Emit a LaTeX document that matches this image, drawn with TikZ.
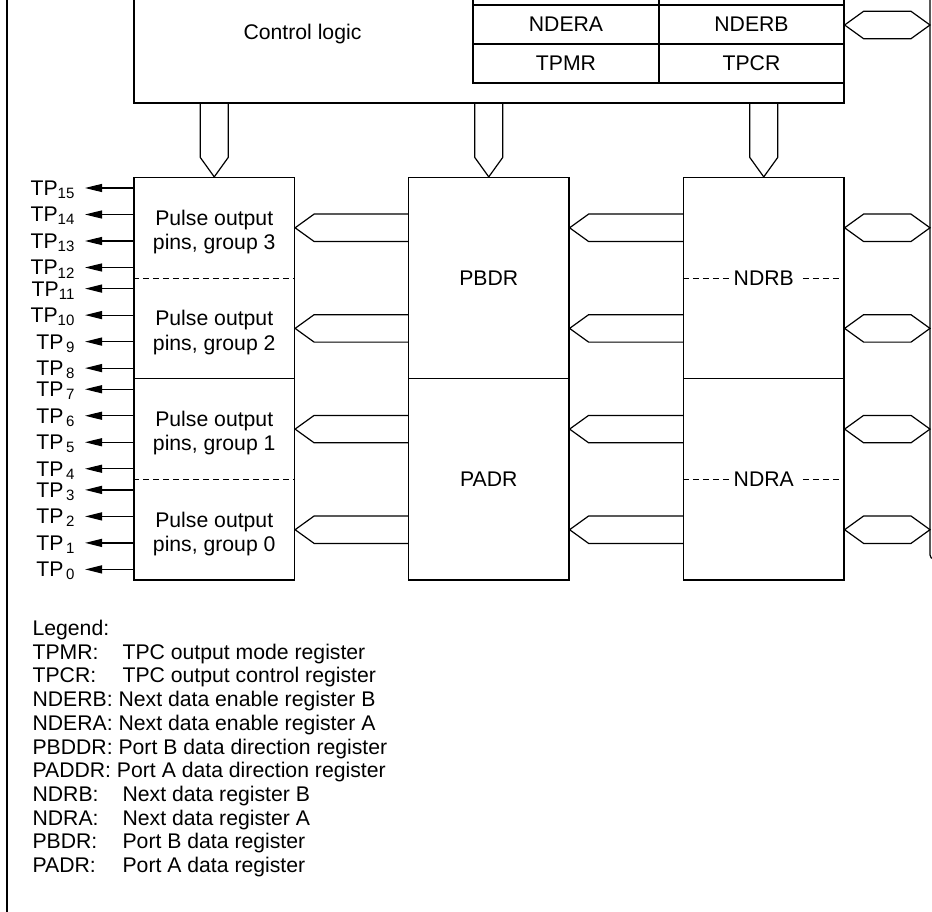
\documentclass[tikz,border=0pt]{standalone}
\usepackage{fontspec}
\setmainfont{Liberation Sans}
\usetikzlibrary{arrows.meta,calc}

% pin labels: two-digit and single-digit subscripts
\newcommand{\tpn}[1]{TP\raisebox{-3pt}{\fontsize{15}{15}\selectfont #1}}
\newcommand{\tpd}[1]{TP\kern2.5pt\raisebox{-3pt}{\fontsize{15}{15}\selectfont #1}}

\begin{document}
\begin{tikzpicture}[x=1pt,y=-1pt,line width=1.2pt,
  txt/.style={font=\fontsize{21.2}{24.3}\selectfont, inner sep=0pt},
  block/.style={draw, rectangle, minimum width=160.5pt, minimum height=201.25pt, inner sep=0pt},
  cell/.style={draw, rectangle, minimum height=39pt, inner sep=0pt, font=\fontsize{21.2}{24.3}\selectfont},
  divider/.style={line width=1pt, dash pattern=on 6pt off 4pt},
  pinarrow/.style={-{Triangle[length=17pt,width=8pt]}, line width=1.2pt},
  bus/.style={line width=1.2pt, line join=miter},
]
\useasboundingbox (0,0) rectangle (932,912);
\clip (0,0) rectangle (932,912);

% frame edge on the left and the internal bus on the right
\draw[line width=2.2pt] (7,-5) -- (7,920);
\coordinate (busTop) at (930,-5);
\coordinate (busBend) at (930,559);
\coordinate (busOut) at (945,559);
\draw[rounded corners=4pt] (busTop) -- (busBend) -- (busOut);

% control logic with its register table
\node[draw, rectangle, minimum width=710pt, minimum height=163pt, inner sep=0pt] (ctrl) at (489,21.5) {};
\node[txt, anchor=base] (ctrlname) at (302.5,39.3) {Control logic};
\node[cell, minimum width=186pt] (rowL) at (566,-14.5) {};
\node[cell, minimum width=185pt] (rowR) at (751.5,-14.5) {};
\node[cell, minimum width=186pt] (ndera) at (566,24.5) {NDERA};
\node[cell, minimum width=185pt] (nderb) at (751.5,24.5) {NDERB};
\node[cell, minimum width=186pt] (tpmr) at (566,63.5) {TPMR};
\node[cell, minimum width=185pt] (tpcr) at (751.5,63.5) {TPCR};

% pulse output pin groups
\node[block] (pulseB) at (214.25,278.125) {};
\node[block] (pulseA) at (214.25,479.375) {};
\draw[divider] (pulseB.west) -- (pulseB.east);
\draw[divider] (pulseA.west) -- (pulseA.east);
\node[txt, align=center] (grp3) at (214.25,231.8) {Pulse output\\pins, group 3};
\node[txt, align=center] (grp2) at (214.25,332.4) {Pulse output\\pins, group 2};
\node[txt, align=center] (grp1) at (214.25,433.1) {Pulse output\\pins, group 1};
\node[txt, align=center] (grp0) at (214.25,533.7) {Pulse output\\pins, group 0};

% port data registers
\node[block, txt] (pbdr) at (488.75,278.125) {PBDR};
\node[block, txt] (padr) at (488.75,479.375) {PADR};

% next data registers
\node[block] (ndrb) at (763.75,278.125) {};
\node[block] (ndra) at (763.75,479.375) {};
\draw[divider] (ndrb.west) -- (ndrb.east);
\draw[divider] (ndra.west) -- (ndra.east);
\node[txt, fill=white, inner xsep=5pt] (ndrbname) at (ndrb.center) {NDRB};
\node[txt, fill=white, inner xsep=5pt] (ndraname) at (ndra.center) {NDRA};

% group centre lines
\coordinate (g3) at (0,227.8);
\coordinate (g2) at (0,328.4);
\coordinate (g1) at (0,429.1);
\coordinate (g0) at (0,529.7);
\coordinate (gt) at (0,25);

% buses from the control logic down to the blocks
\foreach \b in {pulseB,pbdr,ndrb} {
  \draw[bus] ($(ctrl.south -| \b.north)+(-14,0)$) -- ($(\b.north)+(-14,-19.5)$)
    -- (\b.north) -- ($(\b.north)+(14,-19.5)$) -- ($(ctrl.south -| \b.north)+(14,0)$);
}

% buses between the blocks, pointing left
\foreach \g in {g3,g2,g1,g0} {
  \draw[bus] ($(pbdr.west |- \g)+(0,-13.7)$) -- ($(pulseB.east |- \g)+(19,-13.7)$)
    -- (pulseB.east |- \g) -- ($(pulseB.east |- \g)+(19,13.7)$) -- ($(pbdr.west |- \g)+(0,13.7)$);
  \draw[bus] ($(ndrb.west |- \g)+(0,-13.7)$) -- ($(pbdr.east |- \g)+(19,-13.7)$)
    -- (pbdr.east |- \g) -- ($(pbdr.east |- \g)+(19,13.7)$) -- ($(ndrb.west |- \g)+(0,13.7)$);
  % two-way buses to the internal bus
  \draw[bus] (ndrb.east |- \g) -- ++(19,-13.7) -- ($(busTop |- \g)+(-19,-13.7)$)
    -- (busTop |- \g) -- ($(busTop |- \g)+(-19,13.7)$) -- ($(ndrb.east |- \g)+(19,13.7)$) -- cycle;
}
\draw[bus] (ctrl.east |- gt) -- ++(19,-13.7) -- ($(busTop |- gt)+(-19,-13.7)$)
  -- (busTop |- gt) -- ($(busTop |- gt)+(-19,13.7)$) -- ($(ctrl.east |- gt)+(19,13.7)$) -- cycle;

% output pins
\foreach \n/\y/\lab in {15/188/\tpn{15}, 14/214.5/\tpn{14}, 13/241/\tpn{13}, 12/267.5/\tpn{12},
    11/288.6/\tpn{11}, 10/315.1/\tpn{10}, 9/341.6/\tpd{9}, 8/368.1/\tpd{8},
    7/389.25/\tpd{7}, 6/415.75/\tpd{6}, 5/442.25/\tpd{5}, 4/468.75/\tpd{4},
    3/489.9/\tpd{3}, 2/516.4/\tpd{2}, 1/542.9/\tpd{1}, 0/569.4/\tpd{0}} {
  \node[txt, anchor=base east] (tp\n) at (75,\y+7.5) {\lab};
  \coordinate (tip\n) at (85,\y);
  \draw[pinarrow] (pulseB.west |- tip\n) -- (tip\n);
}

% legend
\node[txt, anchor=base west] (legend) at (32,635.5) {Legend:};
\node[txt, anchor=base west] (lk1) at (32,659.2) {TPMR:};
\node[txt, anchor=base west] (ld1) at (122,659.2) {TPC output mode register};
\node[txt, anchor=base west] (lk2) at (32,682.9) {TPCR:};
\node[txt, anchor=base west] (ld2) at (122,682.9) {TPC output control register};
\node[txt, anchor=base west] (lk3) at (32,706.6) {NDERB: Next data enable register B};
\node[txt, anchor=base west] (lk4) at (32,730.3) {NDERA: Next data enable register A};
\node[txt, anchor=base west] (lk5) at (32,754.0) {PBDDR: Port B data direction register};
\node[txt, anchor=base west] (lk6) at (32,777.7) {PADDR: Port A data direction register};
\node[txt, anchor=base west] (lk7) at (32,801.4) {NDRB:};
\node[txt, anchor=base west] (ld7) at (122,801.4) {Next data register B};
\node[txt, anchor=base west] (lk8) at (32,825.1) {NDRA:};
\node[txt, anchor=base west] (ld8) at (122,825.1) {Next data register A};
\node[txt, anchor=base west] (lk9) at (32,848.8) {PBDR:};
\node[txt, anchor=base west] (ld9) at (122,848.8) {Port B data register};
\node[txt, anchor=base west] (lk10) at (32,872.5) {PADR:};
\node[txt, anchor=base west] (ld10) at (122,872.5) {Port A data register};
\end{tikzpicture}
\end{document}
